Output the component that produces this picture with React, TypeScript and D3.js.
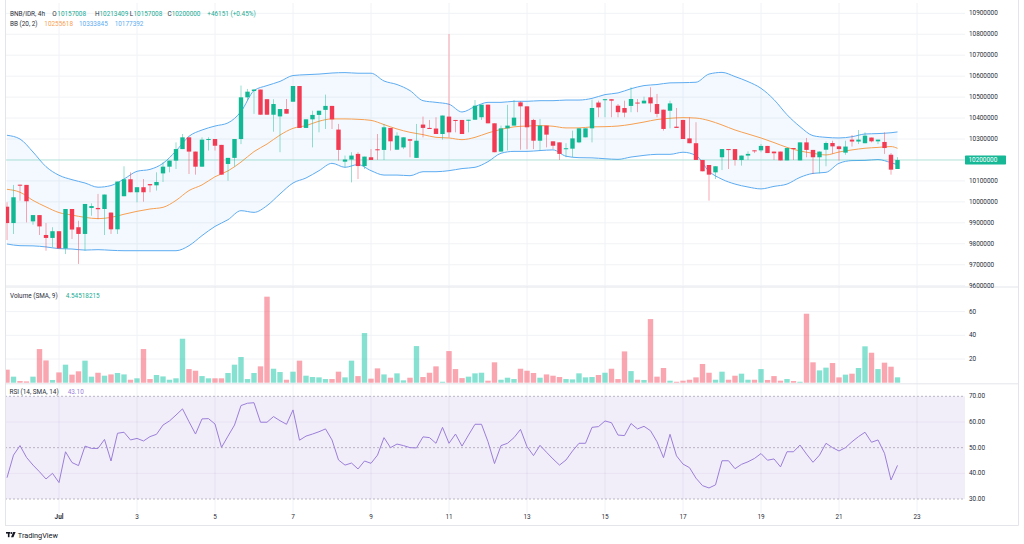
import React from "react";
import * as d3 from "d3";

// ---- Data (BNB/IDR, 4h candles from Jun 29 16:00 to Jul 22 12:00) ----
const opens = [
  9977000, 9899000, 10082000, 10081000, 9907000, 9937000, 9842000, 9828000, 9860000, 9778000,
  9966000, 9879000, 9847000, 9971000, 9971000, 9966000, 9949000, 9869000, 10027000, 10108000,
  10046000, 10070000, 10085000, 10079000, 10136000, 10168000, 10197000, 10252000, 10308000, 10240000,
  10168000, 10297000, 10300000, 10272000, 10181000, 10210000, 10300000, 10499000, 10529000, 10536000,
  10490000, 10416000, 10408000, 10443000, 10478000, 10553000, 10353000, 10394000, 10415000, 10439000,
  10458000, 10345000, 10192000, 10202000, 10229000, 10171000, 10213000, 10251000, 10248000, 10353000,
  10249000, 10260000, 10299000, 10210000, 10369000, 10353000, 10350000, 10324000, 10407000, 10391000,
  10391000, 10391000, 10392000, 10404000, 10464000, 10375000, 10240000, 10351000, 10364000, 10475000,
  10456000, 10391000, 10292000, 10364000, 10289000, 10284000, 10252000, 10254000, 10284000, 10308000,
  10351000, 10474000, 10486000, 10490000, 10459000, 10448000, 10458000, 10474000, 10470000, 10499000,
  10467000, 10440000, 10435000, 10359000, 10391000, 10303000, 10280000, 10200000, 10176000, 10141000,
  10213000, 10252000, 10252000, 10200000, 10221000, 10246000, 10246000, 10267000, 10240000, 10240000,
  10198000, 10257000, 10198000, 10284000, 10248000, 10213000, 10249000, 10281000, 10265000, 10235000,
  10297000, 10288000, 10280000, 10307000, 10289000, 10286000, 10225000, 10157008,
];
const highs = [
  9998000, 10081000, 10082000, 10081000, 9937000, 9937000, 9899000, 9879000, 9860000, 9966000,
  9966000, 9910000, 9990000, 9993000, 10038000, 10035000, 9949000, 10097000, 10170000, 10141000,
  10070000, 10109000, 10085000, 10141000, 10189000, 10197000, 10284000, 10324000, 10308000, 10240000,
  10308000, 10308000, 10300000, 10272000, 10210000, 10300000, 10555000, 10539000, 10539000, 10536000,
  10490000, 10490000, 10443000, 10491000, 10553000, 10553000, 10394000, 10435000, 10435000, 10512000,
  10458000, 10372000, 10221000, 10237000, 10237000, 10216000, 10252000, 10324000, 10372000, 10353000,
  10332000, 10308000, 10299000, 10372000, 10407000, 10391000, 10404000, 10412000, 10801000, 10391000,
  10391000, 10392000, 10486000, 10464000, 10464000, 10375000, 10364000, 10463000, 10486000, 10480000,
  10456000, 10396000, 10396000, 10364000, 10289000, 10284000, 10280000, 10340000, 10351000, 10351000,
  10488000, 10483000, 10491000, 10490000, 10467000, 10483000, 10547000, 10491000, 10502000, 10547000,
  10515000, 10440000, 10483000, 10448000, 10391000, 10404000, 10380000, 10200000, 10176000, 10170000,
  10252000, 10252000, 10252000, 10221000, 10241000, 10246000, 10276000, 10267000, 10240000, 10240000,
  10257000, 10257000, 10284000, 10305000, 10248000, 10241000, 10288000, 10292000, 10268000, 10292000,
  10319000, 10343000, 10332000, 10307000, 10297000, 10332000, 10233000, 10213409,
];
const lows = [
  9818000, 9847000, 10006000, 9902000, 9891000, 9842000, 9767000, 9783000, 9778000, 9751000,
  9823000, 9704000, 9767000, 9934000, 9918000, 9842000, 9847000, 9847000, 10027000, 10046000,
  9998000, 10001000, 10046000, 10054000, 10095000, 10141000, 10157000, 10252000, 10133000, 10130000,
  10168000, 10245000, 10245000, 10130000, 10101000, 10168000, 10276000, 10483000, 10420000, 10416000,
  10416000, 10335000, 10237000, 10421000, 10478000, 10353000, 10353000, 10260000, 10332000, 10348000,
  10348000, 10197000, 10165000, 10093000, 10109000, 10157000, 10200000, 10200000, 10200000, 10245000,
  10249000, 10252000, 10213000, 10210000, 10308000, 10348000, 10324000, 10297000, 10308000, 10332000,
  10324000, 10332000, 10392000, 10391000, 10375000, 10237000, 10240000, 10245000, 10364000, 10249000,
  10252000, 10252000, 10245000, 10260000, 10252000, 10200000, 10213000, 10213000, 10280000, 10308000,
  10284000, 10404000, 10404000, 10404000, 10404000, 10404000, 10428000, 10428000, 10470000, 10428000,
  10404000, 10340000, 10351000, 10353000, 10300000, 10280000, 10200000, 10146000, 10006000, 10109000,
  10152000, 10157000, 10173000, 10173000, 10200000, 10233000, 10237000, 10233000, 10200000, 10198000,
  10198000, 10200000, 10198000, 10213000, 10133000, 10136000, 10170000, 10229000, 10197000, 10225000,
  10264000, 10276000, 10280000, 10284000, 10276000, 10229000, 10130000, 10157008,
];
const closes = [
  9899000, 10022000, 10079000, 10003000, 9937000, 9883000, 9828000, 9860000, 9778000, 9966000,
  9868000, 9847000, 9990000, 9980000, 9965000, 10035000, 9869000, 10097000, 10108000, 10046000,
  10070000, 10046000, 10079000, 10095000, 10168000, 10197000, 10252000, 10308000, 10240000, 10168000,
  10297000, 10300000, 10268000, 10130000, 10210000, 10300000, 10499000, 10526000, 10536000, 10416000,
  10416000, 10467000, 10443000, 10421000, 10553000, 10353000, 10394000, 10415000, 10435000, 10458000,
  10394000, 10248000, 10202000, 10221000, 10171000, 10216000, 10200000, 10248000, 10356000, 10289000,
  10316000, 10308000, 10292000, 10292000, 10353000, 10348000, 10324000, 10412000, 10332000, 10388000,
  10324000, 10392000, 10459000, 10464000, 10375000, 10237000, 10351000, 10364000, 10402000, 10456000,
  10356000, 10292000, 10364000, 10321000, 10268000, 10229000, 10256000, 10303000, 10351000, 10351000,
  10448000, 10451000, 10490000, 10483000, 10428000, 10426000, 10491000, 10470000, 10483000, 10470000,
  10420000, 10348000, 10470000, 10353000, 10300000, 10280000, 10200000, 10146000, 10130000, 10170000,
  10252000, 10249000, 10200000, 10221000, 10229000, 10243000, 10267000, 10233000, 10232000, 10198000,
  10257000, 10254000, 10284000, 10248000, 10213000, 10240000, 10281000, 10265000, 10252000, 10264000,
  10288000, 10297000, 10316000, 10289000, 10297000, 10257000, 10153849, 10200000,
];
const volumes = [
  11.0, 5.1, 1.4, 1.1, 5.1, 28.4, 18.8, 2.3, 8.7, 15.2,
  6.8, 9.6, 18.6, 5.1, 8.4, 5.9, 7.0, 8.2, 7.0, 2.5,
  3.7, 28.4, 3.1, 6.5, 5.3, 2.5, 3.7, 37.1, 11.5, 10.1,
  5.6, 3.7, 3.7, 3.7, 8.2, 15.2, 21.7, 3.1, 8.2, 13.8,
  72.6, 11.8, 9.0, 2.5, 9.3, 18.6, 5.9, 4.8, 4.5, 3.1,
  3.1, 9.3, 4.5, 18.6, 5.6, 41.9, 3.4, 12.1, 7.0, 4.2,
  7.9, 2.0, 4.2, 30.9, 4.8, 8.4, 13.8, 0.8, 26.7, 11.5,
  3.9, 5.1, 7.9, 8.4, 1.7, 17.2, 2.5, 4.2, 3.1, 11.8,
  10.1, 8.2, 4.2, 7.0, 5.9, 4.8, 3.1, 2.8, 7.9, 4.5,
  4.8, 6.5, 8.4, 11.8, 3.1, 26.4, 9.8, 2.5, 2.3, 53.7,
  5.1, 12.4, 1.7, 0.8, 1.7, 2.5, 4.5, 15.8, 8.4, 2.5,
  9.3, 2.5, 5.9, 7.6, 2.5, 2.5, 11.5, 2.3, 5.6, 1.7,
  3.1, 1.4, 0.8, 58.2, 17.2, 10.4, 12.7, 16.6, 4.5, 6.8,
  7.6, 12.4, 30.7, 25.3, 11.5, 16.9, 13.5, 4.54518215,
];
const rsi = [
  38.3, 47.1, 50.8, 46.2, 43.2, 40.6, 37.8, 40.0, 36.4, 48.4,
  44.2, 43.0, 50.6, 49.7, 49.7, 53.2, 44.8, 55.6, 56.0, 53.0,
  53.6, 52.6, 54.3, 55.2, 58.8, 60.4, 62.7, 65.1, 60.1, 55.3,
  61.2, 61.3, 59.2, 50.1, 54.5, 58.8, 66.4, 67.3, 67.5, 59.9,
  59.9, 62.1, 60.5, 59.1, 64.7, 52.9, 54.5, 55.3, 56.2, 57.3,
  53.0, 45.2, 43.2, 44.0, 41.7, 44.8, 43.9, 47.1, 53.9, 50.0,
  51.4, 50.8, 50.0, 49.9, 54.2, 53.9, 51.7, 57.9, 51.7, 55.3,
  50.6, 54.9, 59.1, 59.1, 52.3, 43.8, 50.8, 51.7, 53.9, 57.1,
  50.4, 46.9, 50.9, 48.2, 45.6, 43.2, 45.2, 48.7, 51.7, 51.7,
  57.9, 58.2, 60.4, 59.7, 54.9, 54.7, 59.4, 57.3, 58.3, 56.6,
  52.3, 46.1, 55.2, 46.8, 43.6, 42.2, 38.1, 35.2, 34.3, 35.5,
  44.9, 44.9, 41.8, 43.5, 44.5, 45.8, 47.7, 45.1, 45.6, 42.5,
  48.4, 48.4, 51.0, 47.5, 44.3, 47.1, 51.7, 50.0, 48.7, 50.0,
  52.3, 54.3, 56.0, 52.1, 53.0, 47.8, 37.4, 43.1,
];
// Bollinger band values read at every 2nd candle (0,2,...,136) plus the last candle
const bbUpper = [
  10318000, 10300000, 10238000, 10168000, 10127000, 10106000, 10090000, 10070000, 10078000, 10109000,
  10146000, 10155000, 10184000, 10243000, 10313000, 10343000, 10362000, 10377000, 10431000, 10531000,
  10555000, 10575000, 10603000, 10607000, 10610000, 10615000, 10617000, 10614000, 10614000, 10577000,
  10560000, 10531000, 10483000, 10475000, 10466000, 10429000, 10455000, 10475000, 10475000, 10480000,
  10480000, 10483000, 10483000, 10486000, 10486000, 10494000, 10512000, 10520000, 10540000, 10555000,
  10560000, 10568000, 10569000, 10571000, 10610000, 10618000, 10598000, 10574000, 10542000, 10488000,
  10416000, 10359000, 10316000, 10308000, 10305000, 10311000, 10324000, 10326000, 10330000, 10333845,
];
const bbMid = [
  10060000, 10046000, 10007000, 9976000, 9949000, 9937000, 9926000, 9920000, 9926000, 9941000,
  9955000, 9966000, 9974000, 10007000, 10054000, 10081000, 10120000, 10148000, 10190000, 10240000,
  10276000, 10319000, 10351000, 10364000, 10385000, 10396000, 10396000, 10394000, 10389000, 10369000,
  10348000, 10332000, 10321000, 10308000, 10305000, 10297000, 10308000, 10329000, 10346000, 10358000,
  10362000, 10364000, 10361000, 10353000, 10353000, 10358000, 10359000, 10362000, 10370000, 10381000,
  10393000, 10399000, 10402000, 10400000, 10388000, 10367000, 10343000, 10324000, 10305000, 10283000,
  10260000, 10243000, 10232000, 10224000, 10238000, 10248000, 10256000, 10260000, 10264000, 10255618,
];
const bbLower = [
  9799000, 9791000, 9790000, 9785000, 9777000, 9775000, 9770000, 9772000, 9769000, 9767000,
  9767000, 9767000, 9767000, 9767000, 9791000, 9839000, 9883000, 9915000, 9958000, 9950000,
  9982000, 10038000, 10090000, 10114000, 10149000, 10184000, 10165000, 10178000, 10149000, 10128000,
  10128000, 10125000, 10144000, 10144000, 10149000, 10159000, 10165000, 10192000, 10232000, 10241000,
  10241000, 10245000, 10248000, 10218000, 10211000, 10210000, 10206000, 10203000, 10214000, 10222000,
  10227000, 10227000, 10237000, 10221000, 10146000, 10108000, 10085000, 10071000, 10062000, 10074000,
  10085000, 10117000, 10136000, 10141000, 10184000, 10197000, 10198000, 10202000, 10187000, 10177392,
];
const priceTicks = [
  9600000, 9700000, 9800000, 9900000, 10000000, 10100000, 10200000,
  10300000, 10400000, 10500000, 10600000, 10700000, 10800000, 10900000,
];
const volumeTicks = [20, 40, 60];
const rsiTicks = [70, 60, 50, 40, 30];
const rsiBands = [70, 50, 30];

const UP = "#12b893";
const DOWN = "#f23b53";
const UP_WICK = "rgba(18,184,147,0.45)";
const DOWN_WICK = "rgba(242,59,83,0.45)";
const UP_VOL = "rgba(34,200,172,0.55)";
const DOWN_VOL = "rgba(245,92,112,0.55)";
const TEAL_TXT = "#22ab94";
const BLUE = "#5eacf1";
const ORANGE = "#f7a052";
const PURPLE = "#9b7fd9";
const GRID = "#f1f2f5";
const SEP = "#e3e5ea";
const TXT = "#2a2e39";
const FONT = "Roboto, 'Noto Sans', sans-serif";

export default function App() {
  const W = 1024;
  const H = 544;
  const L = 5;
  const R = 965;
  const RB = 1018.5;
  const n = closes.length;
  const last = n - 1;

  const x = d3.scaleLinear().domain([0, last]).range([7, 897.5]);
  const t0 = Date.UTC(2025, 5, 29, 16);
  const step = 4 * 3600 * 1000;
  const tx = d3
    .scaleUtc()
    .domain([new Date(t0), new Date(t0 + last * step)])
    .range([7, 897.5]);
  const dayTicks = d3.utcDay.every(2)!.range(new Date(t0), new Date(Date.UTC(2025, 6, 24)));
  const fmtMonth = d3.utcFormat("%b");

  const py = d3.scaleLinear().domain([9600000, 10900000]).range([285.7, 13.3]);
  const vy = d3.scaleLinear().domain([0, 20]).range([382.7, 359]);
  const ry = d3.scaleLinear().domain([30, 70]).range([499, 396.3]);

  const bbIdx = d3.range(0, last, 2).concat([last]);
  const bandArea = d3
    .area<number>()
    .x((k) => x(bbIdx[k]))
    .y0((k) => py(bbLower[k]))
    .y1((k) => py(bbUpper[k]))
    .curve(d3.curveMonotoneX);
  const bbLine = (arr: number[]) =>
    d3
      .line<number>()
      .x((k) => x(bbIdx[k]))
      .y((k) => py(arr[k]))
      .curve(d3.curveMonotoneX)(d3.range(arr.length)) || "";
  const rsiLine =
    d3
      .line<number>()
      .x((_, i) => x(i))
      .y((d) => ry(d))(rsi) || "";

  const bodyW = 4.4;
  const volW = 5.4;
  const fs = 6.4;

  const lastC = closes[last];
  const prevC = closes[last - 1];
  const chg = lastC - prevC;
  const pct = (chg / prevC) * 100;
  const fmtInt = (v: number) => String(Math.round(v));

  return (
    <svg
      width={W}
      height={H}
      viewBox={`0 0 ${W} ${H}`}
      style={{ position: "absolute", left: 0, top: 0, background: "#fff" }}
      fontFamily={FONT}
    >
      <rect x={0} y={0} width={W} height={H} fill="#fff" />
      <defs>
        <clipPath id="pricePane">
          <rect x={L} y={3} width={R - L} height={284} />
        </clipPath>
        <clipPath id="volPane">
          <rect x={L} y={287} width={R - L} height={96.5} />
        </clipPath>
      </defs>

      {/* vertical grid */}
      {dayTicks.map((d, i) => (
        <line key={"vg" + i} x1={tx(d)} x2={tx(d)} y1={3} y2={513} stroke={GRID} strokeWidth={1} />
      ))}
      {/* price grid */}
      {priceTicks.map((p) => (
        <line key={"pg" + p} x1={L} x2={R} y1={py(p)} y2={py(p)} stroke={GRID} strokeWidth={1} />
      ))}
      {/* volume grid */}
      {volumeTicks.map((v) => (
        <line key={"vgl" + v} x1={L} x2={R} y1={vy(v)} y2={vy(v)} stroke={GRID} strokeWidth={1} />
      ))}

      {/* RSI background */}
      <rect x={L} y={ry(70)} width={R - L} height={ry(30) - ry(70)} fill="rgba(126,87,194,0.1)" />
      {[60, 40].map((v) => (
        <line key={"rg" + v} x1={L} x2={R} y1={ry(v)} y2={ry(v)} stroke="rgba(126,87,194,0.08)" />
      ))}
      {rsiBands.map((v) => (
        <line
          key={"rb" + v}
          x1={L}
          x2={R}
          y1={ry(v)}
          y2={ry(v)}
          stroke="#a9a3b6"
          strokeWidth={0.8}
          strokeDasharray="2,2"
        />
      ))}
      <path d={rsiLine} fill="none" stroke={PURPLE} strokeWidth={1} />

      {/* price pane */}
      <g clipPath="url(#pricePane)">
        <path d={bandArea(d3.range(bbIdx.length)) || ""} fill="rgba(33,150,243,0.055)" />
        <path d={bbLine(bbUpper)} fill="none" stroke={BLUE} strokeWidth={1} />
        <path d={bbLine(bbLower)} fill="none" stroke={BLUE} strokeWidth={1} />
        <path d={bbLine(bbMid)} fill="none" stroke={ORANGE} strokeWidth={1} />
        <line
          x1={L}
          x2={R}
          y1={py(lastC)}
          y2={py(lastC)}
          stroke="rgba(18,184,147,0.35)"
          strokeWidth={0.8}
        />
        {closes.map((c, i) => {
          const o = opens[i];
          const up = c >= o;
          const yTop = py(Math.max(o, c));
          const hgt = Math.max(1, Math.abs(py(o) - py(c)));
          return (
            <g key={"c" + i}>
              <line
                x1={x(i)}
                x2={x(i)}
                y1={py(highs[i])}
                y2={py(lows[i])}
                stroke={up ? UP_WICK : DOWN_WICK}
                strokeWidth={1}
              />
              <rect x={x(i) - bodyW / 2} y={yTop} width={bodyW} height={hgt} fill={up ? UP : DOWN} />
            </g>
          );
        })}
      </g>

      {/* volume pane */}
      <g clipPath="url(#volPane)">
        {volumes.map((v, i) => {
          const up = closes[i] >= opens[i];
          return (
            <rect
              key={"v" + i}
              x={x(i) - volW / 2}
              y={vy(v)}
              width={volW}
              height={vy(0) - vy(v)}
              fill={up ? UP_VOL : DOWN_VOL}
            />
          );
        })}
      </g>

      {/* pane separators and borders */}
      <line x1={L} x2={RB} y1={287} y2={287} stroke={SEP} />
      <line x1={L} x2={RB} y1={383.8} y2={383.8} stroke={SEP} />
      <line x1={L} x2={RB} y1={525.5} y2={525.5} stroke={SEP} />
      <line x1={L + 0.5} x2={L + 0.5} y1={0} y2={525.5} stroke={SEP} />
      <line x1={RB} x2={RB} y1={0} y2={525.5} stroke={SEP} />

      {/* price axis labels */}
      {priceTicks.map((p) => (
        <text key={"pl" + p} x={969} y={py(p)} fontSize={fs} fill={TXT} dominantBaseline="central">
          {p}
        </text>
      ))}
      {/* last price label */}
      <rect x={965} y={py(lastC) - 4.5} width={41} height={9} fill="#16b896" rx={0.8} />
      <text x={968.5} y={py(lastC)} fontSize={fs} fill="#fff" dominantBaseline="central">
        {fmtInt(lastC)}
      </text>

      {/* volume axis labels */}
      {volumeTicks.map((v) => (
        <text key={"vl" + v} x={969} y={vy(v)} fontSize={fs} fill={TXT} dominantBaseline="central">
          {v}
        </text>
      ))}
      {/* RSI axis labels */}
      {rsiTicks.map((v) => (
        <text key={"rl" + v} x={969} y={ry(v)} fontSize={fs} fill={TXT} dominantBaseline="central">
          {v.toFixed(2)}
        </text>
      ))}

      {/* time axis */}
      {dayTicks.map((d, i) => {
        const day = d.getUTCDate();
        return (
          <text
            key={"tl" + i}
            x={tx(d)}
            y={516.8}
            fontSize={fs}
            fill={TXT}
            textAnchor="middle"
            dominantBaseline="central"
            fontWeight={day === 1 ? 700 : 400}
          >
            {day === 1 ? fmtMonth(d) : String(day)}
          </text>
        );
      })}

      {/* legends */}
      <text y={14} fontSize={fs} dominantBaseline="central" fill={TXT}>
        <tspan x={10}>BNB/IDR, 4h</tspan>
        <tspan x={52.3}>O</tspan>
        <tspan x={57.3} fill={TEAL_TXT}>{fmtInt(opens[last])}</tspan>
        <tspan x={95}>H</tspan>
        <tspan x={99.5} fill={TEAL_TXT}>{fmtInt(highs[last])}</tspan>
        <tspan x={129.7}>L</tspan>
        <tspan x={133.5} fill={TEAL_TXT}>{fmtInt(lows[last])}</tspan>
        <tspan x={167.5}>C</tspan>
        <tspan x={171.7} fill={TEAL_TXT}>{fmtInt(lastC)}</tspan>
        <tspan x={207.3} fill={TEAL_TXT}>
          {`+${fmtInt(chg)} (+${pct.toFixed(2)}%)`}
        </tspan>
      </text>
      <text y={23.6} fontSize={fs} dominantBaseline="central" fill={TXT}>
        <tspan x={10}>BB (20, 2)</tspan>
        <tspan x={44.3} fill={ORANGE}>{fmtInt(bbMid[bbMid.length - 1])}</tspan>
        <tspan x={79} fill={BLUE}>{fmtInt(bbUpper[bbUpper.length - 1])}</tspan>
        <tspan x={114.7} fill={BLUE}>{fmtInt(bbLower[bbLower.length - 1])}</tspan>
      </text>
      <text y={296} fontSize={fs} dominantBaseline="central" fill={TXT}>
        <tspan x={10}>Volume (SMA, 9)</tspan>
        <tspan x={65.7} fill={TEAL_TXT}>{volumes[last]}</tspan>
      </text>
      <text y={392.3} fontSize={fs} dominantBaseline="central" fill={TXT}>
        <tspan x={9.5}>RSI (14, SMA, 14)</tspan>
        <tspan x={67.7} fill={PURPLE}>{rsi[last].toFixed(2)}</tspan>
      </text>

      {/* TradingView logo */}
      <g fill="#131722">
        <rect x={6} y={532} width={4.2} height={1.6} />
        <rect x={7.9} y={532} width={1.6} height={5.2} />
        <circle cx={11.4} cy={533} r={0.95} />
        <polygon points="13.2,532 15.6,532 13.4,537.2 11,537.2" />
      </g>
      <text x={17.8} y={535} fontSize={7.3} fill="#131722" dominantBaseline="central">
        TradingView
      </text>
    </svg>
  );
}
